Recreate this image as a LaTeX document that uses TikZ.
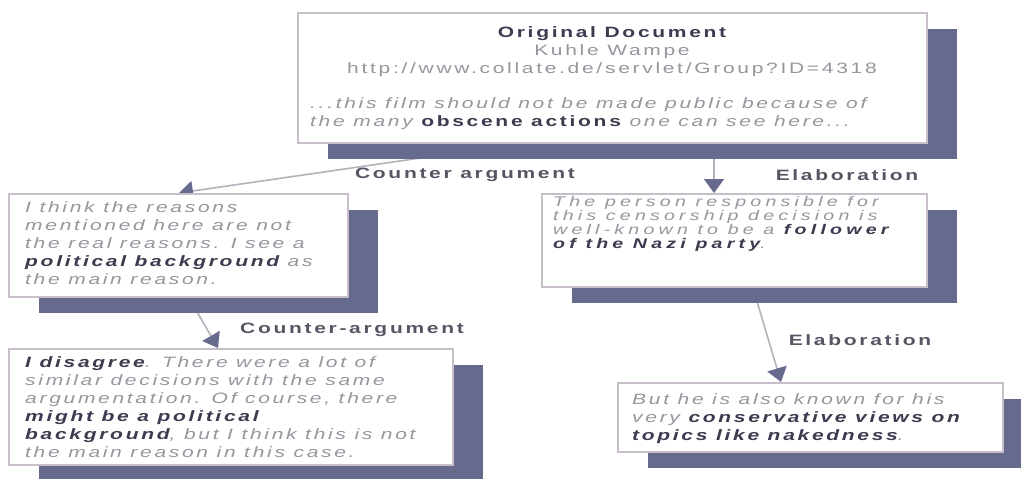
\documentclass[tikz,border=0pt]{standalone}
\usepackage{fontspec}
\setmainfont{Liberation Sans}[FakeStretch=1.4,LetterSpace=18]
\usetikzlibrary{arrows.meta,backgrounds}
\definecolor{slate}{RGB}{102,106,140}
\definecolor{frame}{RGB}{200,190,202}
\definecolor{lnk}{RGB}{185,176,190}
\definecolor{txtgray}{RGB}{150,150,158}
\definecolor{txtdark}{RGB}{60,60,80}
\definecolor{lblc}{RGB}{85,85,100}
\newcommand{\hl}[1]{\textbf{\color{txtdark}#1}}
\tikzset{
  shadowbox/.style={fill=slate, draw=none, inner sep=0pt},
  card/.style={draw=frame, line width=2pt, fill=white, inner sep=0pt},
  body/.style={anchor=north west, align=left, inner sep=0pt,
    font=\fontsize{15}{18}\selectfont\itshape, text=txtgray},
  lbl/.style={font=\fontsize{15}{18}\selectfont\bfseries, text=lblc, inner sep=0pt},
  link/.style={draw=lnk, line width=1.6pt,
    -{Triangle[width=20pt,length=14pt,color=slate]}}
}
\begin{document}
\begin{tikzpicture}[x=1pt,y=-1pt]
\useasboundingbox (0,0) rectangle (1021,479);
\clip (0,0) rectangle (1021,479);
\begin{scope}[on background layer]
\fill[white] (0,0) rectangle (1021,479);
\end{scope}

% shadows
\node[shadowbox, minimum width=629pt, minimum height=130pt] (sA) at (642.5,94) {};
\node[shadowbox, minimum width=339pt, minimum height=103pt] (sL1) at (208.5,261.5) {};
\node[shadowbox, minimum width=444pt, minimum height=116pt] (sL2) at (261,423) {};
\node[shadowbox, minimum width=385pt, minimum height=93pt] (sR1) at (764.5,256.5) {};
\node[shadowbox, minimum width=385pt, minimum height=69pt] (sR2) at (840.5,433.5) {};

% boxes
\node[card, minimum width=629pt, minimum height=130pt] (A) at (612.5,78) {};
\node[card, minimum width=339pt, minimum height=103pt] (L1) at (178.5,245.5) {};
\node[card, minimum width=444pt, minimum height=116pt] (L2) at (231,407) {};
\node[card, minimum width=385pt, minimum height=93pt] (R1) at (734.5,240.5) {};
\node[card, minimum width=385pt, minimum height=69pt] (R2) at (810.5,417.5) {};

% texts
\node[body, anchor=north, align=center, font=\fontsize{15}{18}\selectfont] (tA1) at (612,26)
  {\hl{Original Document}\\Kuhle Wampe\\http://www.collate.de/servlet/Group?ID=4318};
\node[body] (tA2) at (310,97)
  {...this film should not be made public because of\\the many \hl{\upshape obscene actions} one can see here...};
\node[body] (tL1) at (25,201)
  {I think the reasons\\mentioned here are not\\the real reasons. I see a\\\hl{political background} as\\the main reason.};
\node[body] (tL2) at (25,356)
  {\hl{I disagree}. There were a lot of\\similar decisions with the same\\argumentation. Of course, there\\\hl{might be a political}\\\hl{background}, but I think this is not\\the main reason in this case.};
\node[body, font=\fontsize{14}{14}\selectfont\itshape\addfontfeature{LetterSpace=30}] (tR1) at (553,196)
  {The person responsible for\\this censorship decision is\\well-known to be a \hl{follower}\\\hl{of the Nazi party}.};
\node[body] (tR2) at (632,393)
  {But he is also known for his\\very \hl{conservative views on}\\\hl{topics like nakedness}.};

% labels
\node[lbl] (c1) at (465,175) {Counter argument};
\node[lbl] (e1) at (847,175) {Elaboration};
\node[lbl] (c2) at (352,330) {Counter-argument};
\node[lbl] (e2) at (860,340) {Elaboration};

% connectors
\begin{scope}[on background layer]
\draw[link] ([xshift=220pt]A.south west) -- ([xshift=171pt]L1.north west);
\draw[link] ([xshift=417pt]A.south west) -- ([xshift=173pt]R1.north west);
\draw[link] ([xshift=181pt]L1.south west) -- ([xshift=210pt]L2.north west);
\draw[link] ([xshift=212pt]R1.south west) -- ([xshift=164pt]R2.north west);
\end{scope}
\end{tikzpicture}
\end{document}
